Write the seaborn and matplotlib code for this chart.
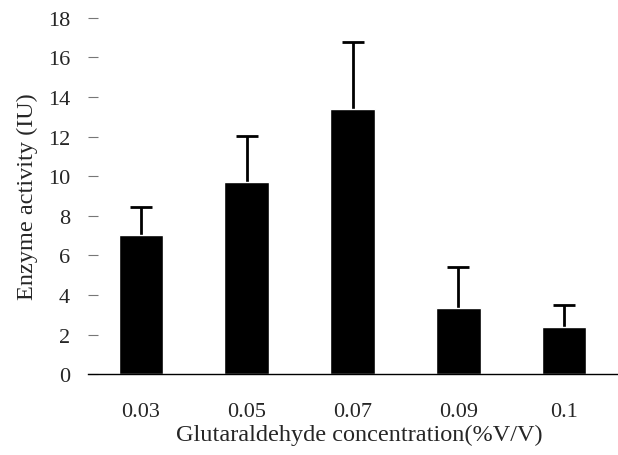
import matplotlib
matplotlib.use("Agg")
import matplotlib.pyplot as plt
import seaborn as sns
import pandas as pd
import numpy as np

categories = ["0.03", "0.05", "0.07", "0.09", "0.1"]
activity = [7.03, 9.69, 13.40, 3.35, 2.40]
error_up = [1.40, 2.34, 3.36, 2.07, 1.11]
y_ticks = [0, 2, 4, 6, 8, 10, 12, 14, 16, 18]

sns.set_style("white")
plt.rcParams['font.family'] = ['Liberation Serif', 'DejaVu Serif']

df = pd.DataFrame({"conc": categories, "activity": activity})

fig = plt.figure(figsize=(6.18, 4.56), dpi=100)
ax = fig.add_axes([0.1424, 0.177, 0.856, 0.782])

xpos = np.arange(len(categories))
# symmetric error bars drawn beneath the bars so only the upper half shows
ax.errorbar(xpos, activity, yerr=[error_up, error_up], fmt="none",
            ecolor="black", elinewidth=2, capsize=8, capthick=2, zorder=0.5)
sns.barplot(data=df, x="conc", y="activity", color="black", width=0.42,
            saturation=1, ax=ax, errorbar=None, zorder=2)

ax.set_xlim(-0.5, len(categories) - 0.5)
ax.set_ylim(0, 18)
ax.set_yticks(y_ticks)
ax.set_yticklabels([str(v) for v in y_ticks], fontsize=16)
ax.set_xticks(xpos)
ax.set_xticklabels(categories, fontsize=16)
ax.set_xticks(np.arange(0.5, len(categories) - 0.5, 1.0), minor=True)

for s in ["top", "right", "left"]:
    ax.spines[s].set_visible(False)
ax.spines["bottom"].set_color("black")
ax.spines["bottom"].set_linewidth(1.0)
ax.spines["bottom"].set_zorder(3)

ax.tick_params(axis="x", which="major", length=0, pad=20)
ax.tick_params(axis="x", which="minor", direction="in", length=7, width=0.8, color="#444")
ax.tick_params(axis="y", which="major", direction="in", length=7, width=0.8,
               color="#777", left=True, pad=13)

ax.set_xlabel("Glutaraldehyde concentration(%V/V)", fontsize=17.5, labelpad=2)
ax.xaxis.label.set_x(0.513)
ax.set_ylabel("Enzyme activity (IU)", fontsize=17.5, labelpad=7)

fig.savefig("out.png", dpi=100)
